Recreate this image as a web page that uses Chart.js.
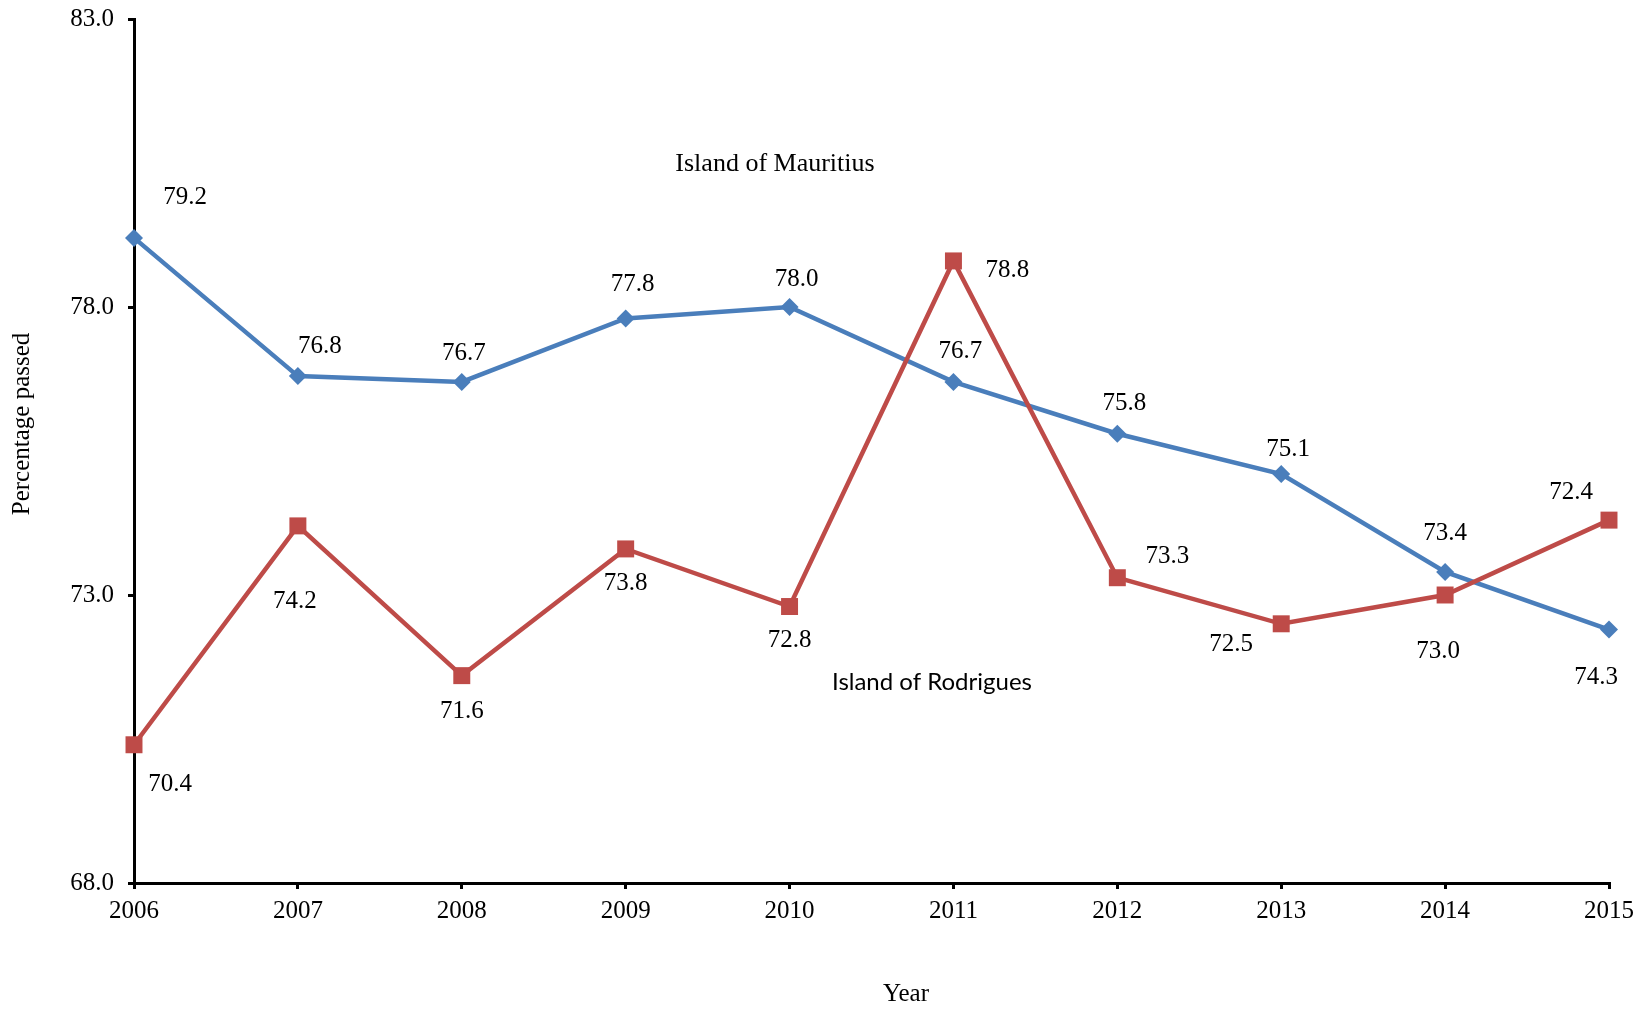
<!DOCTYPE html>
<html>
<head>
<meta charset="utf-8">
<script src="https://cdn.jsdelivr.net/npm/chart.js@4/dist/chart.umd.min.js"></script>
<style>
  html, body { margin: 0; padding: 0; background: #fff; }
  #wrap { width: 1646px; height: 1009px; }
</style>
</head>
<body>
<div id="wrap"><canvas id="myChart" width="1646" height="1009"></canvas></div>
<script>
// categories and values
var years = ['2006', '2007', '2008', '2009', '2010', '2011', '2012', '2013', '2014', '2015']
var mauritius = [79.2, 76.8, 76.7, 77.8, 78.0, 76.7, 75.8, 75.1, 73.4, 72.4]
var rodrigues = [70.4, 74.2, 71.6, 73.8, 72.8, 78.8, 73.3, 72.5, 73.0, 74.3]
var yTicks = [68, 73, 78, 83]

// where each value label sits relative to its marker (px)
var mauritiusLabelOffset = [[51, -40], [22, -30], [2, -28], [7, -34], [7, -28], [7, -30], [7, -30], [7, -25], [0, -39], [-38, -137]]
var rodriguesLabelOffset = [[36, 40], [-3, 76], [0, 36], [0, 35], [0, 34], [54, 10], [50, -21], [-50, 21], [-7, 56], [-13, 157]]

var serif = 'Liberation Serif, Times New Roman, serif'

var labelPlugin = {
    id: 'valueLabels',
    afterDatasetsDraw: function (chart) {
        var ctx = chart.ctx
        ctx.save()
        ctx.fillStyle = '#000'
        ctx.textAlign = 'center'
        ctx.textBaseline = 'middle'
        ctx.font = '25px ' + serif
        chart.data.datasets.forEach(function (ds, di) {
            var meta = chart.getDatasetMeta(di)
            meta.data.forEach(function (pt, i) {
                var off = ds.labelOffset[i]
                ctx.fillText(ds.data[i].toFixed(1), pt.x + off[0], pt.y + off[1])
            })
        })

        // series names
        ctx.font = '26px ' + serif
        ctx.fillText('Island of Mauritius', 775, 164)
        ctx.font = '24px Lato, sans-serif'
        ctx.fillText('Island of Rodrigues', 932, 682)

        // axis titles
        ctx.font = '25px ' + serif
        ctx.fillText('Year', 906, 994)
        ctx.translate(22, 424)
        ctx.rotate(-Math.PI / 2)
        ctx.fillText('Percentage passed', 0, 0)
        ctx.restore()
    }
}

const data = {
    labels: years,
    datasets: [{
        label: 'Island of Mauritius',
        data: mauritius,
        labelOffset: mauritiusLabelOffset,
        borderColor: '#4a7ebb',
        backgroundColor: '#4a7ebb',
        borderWidth: 4.5,
        pointStyle: 'rectRot',
        pointRadius: 9,
        pointBorderWidth: 0,
        tension: 0,
        clip: false,
        order: 2
    }, {
        label: 'Island of Rodrigues',
        data: rodrigues,
        labelOffset: rodriguesLabelOffset,
        borderColor: '#be4b48',
        backgroundColor: '#be4b48',
        borderWidth: 4.5,
        pointStyle: 'rect',
        pointRadius: 12,
        pointBorderWidth: 0,
        tension: 0,
        clip: false,
        order: 1
    }]
};

const config = {
    type: 'line',
    data,
    options: {
        responsive: false,
        animation: false,
        layout: { padding: { top: 19, right: 37, left: 0, bottom: 0 } },
        plugins: {
            legend: { display: false },
            tooltip: { enabled: false }
        },
        scales: {
            x: {
                offset: false,
                grid: { display: true, drawOnChartArea: false, drawTicks: true, tickLength: 6, color: '#000', lineWidth: 3 },
                border: { display: true, color: '#000', width: 3 },
                ticks: { color: '#000', font: { family: serif, size: 25 }, padding: 7, maxRotation: 0, autoSkip: false },
                afterFit: function (scale) {
                    scale.height = 126
                    scale.paddingLeft = 0
                    scale.paddingRight = 0
                }
            },
            y: {
                min: 68,
                max: 83,
                afterBuildTicks: function (scale) {
                    scale.ticks = yTicks.map(function (v) { return { value: v } })
                },
                grid: { display: true, drawOnChartArea: false, drawTicks: true, tickLength: 6, color: '#000', lineWidth: 3 },
                border: { display: true, color: '#000', width: 3 },
                ticks: {
                    color: '#000',
                    font: { family: serif, size: 25 },
                    padding: 14,
                    callback: function (v) { return Number(v).toFixed(1) }
                },
                afterFit: function (scale) {
                    scale.width = 134
                    scale.paddingTop = 0
                    scale.paddingBottom = 0
                }
            }
        }
    },
    plugins: [labelPlugin]
};

var myChart = new Chart(
    document.getElementById('myChart'),
    config
);
</script>
</body>
</html>
